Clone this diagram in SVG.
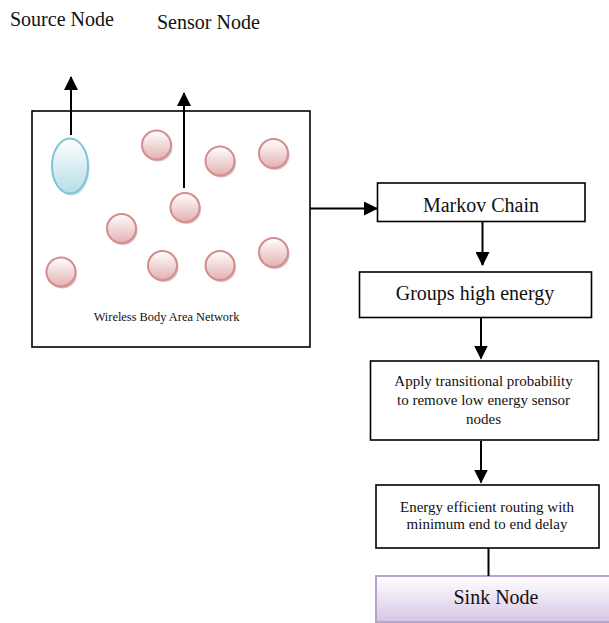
<svg xmlns="http://www.w3.org/2000/svg" width="609" height="623" viewBox="0 0 609 623">
<defs>
<linearGradient id="gPink" x1="0" y1="0" x2="0" y2="1">
<stop offset="0" stop-color="#ffffff"/>
<stop offset="1" stop-color="#e4b0b2"/>
</linearGradient>
<linearGradient id="gBlue" x1="0" y1="0" x2="0" y2="1">
<stop offset="0" stop-color="#ffffff"/>
<stop offset="1" stop-color="#b6dde7"/>
</linearGradient>
<linearGradient id="gSink" x1="0" y1="0" x2="0" y2="1">
<stop offset="0" stop-color="#ffffff"/>
<stop offset="1" stop-color="#d6c6e6"/>
</linearGradient>
<marker id="ah" viewBox="0 0 14 14" refX="13" refY="7" markerWidth="14" markerHeight="14" markerUnits="userSpaceOnUse" orient="auto">
<path d="M0,0 L14,7 L0,14 Z" fill="#000"/>
</marker>
</defs>
<style>
.t{font-family:"Liberation Serif","Times New Roman",serif;fill:#111;}
.box{fill:#fff;stroke:#000;stroke-width:1.6;}
.pink{fill:url(#gPink);stroke:#d48d8e;stroke-width:2;}
.shadow{fill:#b98a8b;opacity:0.55;}
.c{stroke:#000;stroke-width:2;fill:none;}
</style>
<rect width="609" height="623" fill="#fff"/>

<g id="labels">
<text class="t" x="10" y="26" font-size="20">Source Node</text>
<text class="t" x="157" y="29" font-size="20">Sensor Node</text>
</g>

<g id="wban">
<rect class="box" x="32" y="111" width="278" height="236" stroke-width="2"/>
<text class="t" x="166.5" y="320.5" font-size="12.4" text-anchor="middle">Wireless Body Area Network</text>
</g>

<g id="source-node">
<ellipse cx="71.5" cy="168" rx="18" ry="27.5" fill="#8fb5c0" opacity="0.5"/>
<ellipse cx="70" cy="166" rx="18" ry="27.5" fill="url(#gBlue)" stroke="#7fc5d6" stroke-width="2"/>
</g>

<g id="sensor-nodes">
<g id="s1"><circle class="shadow" cx="158" cy="147" r="14.5"/><circle class="pink" cx="156.5" cy="145" r="14.5"/></g>
<g id="s2"><circle class="shadow" cx="221.5" cy="163" r="14.5"/><circle class="pink" cx="220" cy="161" r="14.5"/></g>
<g id="s3"><circle class="shadow" cx="275" cy="155.5" r="14.5"/><circle class="pink" cx="273.5" cy="153.5" r="14.5"/></g>
<g id="s4"><circle class="shadow" cx="186.5" cy="209.5" r="14.5"/><circle class="pink" cx="185" cy="207.5" r="14.5"/></g>
<g id="s5"><circle class="shadow" cx="123" cy="230.5" r="14.5"/><circle class="pink" cx="121.5" cy="228.5" r="14.5"/></g>
<g id="s6"><circle class="shadow" cx="62.5" cy="274" r="14.5"/><circle class="pink" cx="61" cy="272" r="14.5"/></g>
<g id="s7"><circle class="shadow" cx="164" cy="267.5" r="14.5"/><circle class="pink" cx="162.5" cy="265.5" r="14.5"/></g>
<g id="s8"><circle class="shadow" cx="221.5" cy="267.5" r="14.5"/><circle class="pink" cx="220" cy="265.5" r="14.5"/></g>
<g id="s9"><circle class="shadow" cx="275" cy="254.5" r="14.5"/><circle class="pink" cx="273.5" cy="252.5" r="14.5"/></g>
</g>

<g id="markov">
<rect class="box" x="377.5" y="183" width="207.5" height="38.5"/>
<text class="t" x="481" y="211.5" font-size="20" text-anchor="middle">Markov Chain</text>
</g>

<g id="groups">
<rect class="box" x="359.5" y="272" width="232" height="45.5"/>
<text class="t" x="475" y="299.5" font-size="20" text-anchor="middle">Groups high energy</text>
</g>

<g id="apply">
<rect class="box" x="370.5" y="361" width="228" height="79"/>
<text class="t" x="483.5" y="386" font-size="15" text-anchor="middle">Apply transitional probability</text>
<text class="t" x="483.5" y="405" font-size="15" text-anchor="middle">to remove low energy sensor</text>
<text class="t" x="483.5" y="423.5" font-size="15" text-anchor="middle">nodes</text>
</g>

<g id="energy">
<rect class="box" x="376" y="485" width="223" height="63"/>
<text class="t" x="487" y="511.5" font-size="15" text-anchor="middle">Energy efficient routing with</text>
<text class="t" x="487" y="528.5" font-size="15" text-anchor="middle">minimum end to end delay</text>
</g>

<g id="sink">
<rect x="376" y="576" width="240" height="46" fill="url(#gSink)" stroke="#b9a3d2" stroke-width="2"/>
<text class="t" x="496" y="603.5" font-size="20" text-anchor="middle">Sink Node</text>
</g>

<g id="connectors">
<line class="c" x1="71" y1="135" x2="71" y2="77" marker-end="url(#ah)"/>
<line class="c" x1="184" y1="188" x2="184" y2="93" marker-end="url(#ah)"/>
<line class="c" x1="310" y1="208.5" x2="377" y2="208.5" marker-end="url(#ah)"/>
<line class="c" x1="482.5" y1="222" x2="482.5" y2="265" marker-end="url(#ah)"/>
<line class="c" x1="481" y1="317.5" x2="481" y2="358.5" marker-end="url(#ah)"/>
<line class="c" x1="481" y1="441" x2="481" y2="482.5" marker-end="url(#ah)"/>
<line class="c" x1="488.5" y1="548" x2="488.5" y2="576"/>
</g>
</svg>
